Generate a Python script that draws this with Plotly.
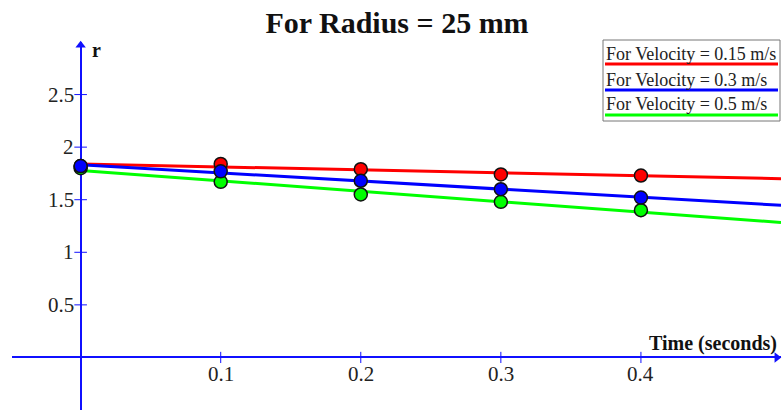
import numpy as np
import plotly.graph_objects as go

# Measured radius r against time for three flow velocities
time_s = [0.0, 0.1, 0.2, 0.3, 0.4]
series_names = ["For Velocity = 0.15 m/s", "For Velocity = 0.3 m/s", "For Velocity = 0.5 m/s"]
r_v015 = [1.82, 1.84, 1.79, 1.74, 1.73]
r_v030 = [1.82, 1.77, 1.68, 1.60, 1.52]
r_v050 = [1.80, 1.67, 1.55, 1.48, 1.40]
series_colors = ["#ff0000", "#0000ff", "#00ff00"]

x_ticks = [0.1, 0.2, 0.3, 0.4]
x_tick_labels = ["0.1", "0.2", "0.3", "0.4"]
y_ticks = [0.5, 1.0, 1.5, 2.0, 2.5]
y_tick_labels = ["0.5", "1", "1.5", "2", "2.5"]

X_RANGE = [-0.049, 0.5]
Y_RANGE = [-0.5, 3.0]
AXIS_BLUE = "#1010ff"
SERIF = "Liberation Serif, Times New Roman, serif"

W, H = 782, 410
ML, MR, MT, MB = 12, 1, 42, 0


def px_x(p):
    return (p - ML) / (W - ML - MR)


def px_y(p):
    return (H - MB - p) / (H - MT - MB)


fig = go.Figure()

series = [r_v015, r_v030, r_v050]

# least-squares trend lines across the full x range
x_line = np.array([0.0, X_RANGE[1]])
for vals, col in zip(series, series_colors):
    m, b = np.polyfit(time_s, vals, 1)
    fig.add_trace(go.Scatter(x=x_line, y=m * x_line + b, mode="lines",
                             line=dict(color=col, width=3), hoverinfo="skip",
                             showlegend=False, cliponaxis=True))

# measured points (green under red under blue)
for idx in [2, 0, 1]:
    fig.add_trace(go.Scatter(x=time_s, y=series[idx], mode="markers",
                             marker=dict(color=series_colors[idx], size=13,
                                         line=dict(color="#111111", width=1.5)),
                             name=series_names[idx], showlegend=False))

# tick marks crossing the axes
fig.add_trace(go.Scatter(x=x_ticks, y=[0] * len(x_ticks), mode="markers",
                         marker=dict(symbol="line-ns", size=8,
                                     line=dict(color=AXIS_BLUE, width=1)),
                         hoverinfo="skip", showlegend=False))
fig.add_trace(go.Scatter(x=[0] * len(y_ticks), y=y_ticks, mode="markers",
                         marker=dict(symbol="line-ew", size=9,
                                     line=dict(color=AXIS_BLUE, width=1)),
                         hoverinfo="skip", showlegend=False))

# arrow heads at the axis ends
fig.add_trace(go.Scatter(x=[0], y=[Y_RANGE[1] - 0.03], mode="markers",
                         marker=dict(symbol="triangle-up", size=9, color=AXIS_BLUE),
                         cliponaxis=False, hoverinfo="skip", showlegend=False))
fig.add_trace(go.Scatter(x=[X_RANGE[1] - 0.003], y=[0], mode="markers",
                         marker=dict(symbol="triangle-right", size=9, color=AXIS_BLUE),
                         cliponaxis=False, hoverinfo="skip", showlegend=False))

annotations = []
for v, t in zip(x_ticks, x_tick_labels):
    annotations.append(dict(x=v, y=0, xref="x", yref="y", text=t, showarrow=False,
                            xanchor="center", yanchor="top", yshift=-3,
                            font=dict(family=SERIF, size=21, color="#222222")))
for v, t in zip(y_ticks, y_tick_labels):
    annotations.append(dict(x=0, y=v, xref="x", yref="y", text=t, showarrow=False,
                            xanchor="right", yanchor="middle", xshift=-5,
                            font=dict(family=SERIF, size=21, color="#222222")))

annotations.append(dict(x=px_x(90), y=px_y(50), xref="paper", yref="paper", text="<b>r</b>",
                        showarrow=False, xanchor="left", yanchor="middle",
                        font=dict(family=SERIF, size=20, color="#111111")))
annotations.append(dict(x=px_x(779), y=px_y(343), xref="paper", yref="paper",
                        text="<b>Time (seconds)</b>", showarrow=False,
                        xanchor="right", yanchor="middle",
                        font=dict(family=SERIF, size=20, color="#111111")))

# legend box: label text with a coloured stroke underneath
shapes = [dict(type="rect", xref="paper", yref="paper",
               x0=px_x(603), x1=px_x(780), y0=px_y(121), y1=px_y(40),
               line=dict(color="#777777", width=1), fillcolor="white", layer="above")]
text_rows = [54, 80, 104]
line_rows = [64, 90, 115]
for name, col, ty, ly in zip(series_names, series_colors, text_rows, line_rows):
    annotations.append(dict(x=px_x(604), y=px_y(ty), xref="paper", yref="paper", text=name,
                            showarrow=False, xanchor="left", yanchor="middle",
                            font=dict(family=SERIF, size=18, color="#222222")))
    shapes.append(dict(type="line", xref="paper", yref="paper",
                       x0=px_x(605), x1=px_x(778), y0=px_y(ly), y1=px_y(ly),
                       line=dict(color=col, width=3), layer="above"))

fig.update_layout(
    width=W, height=H,
    margin=dict(l=ML, r=MR, t=MT, b=MB),
    paper_bgcolor="white", plot_bgcolor="white",
    title=dict(text="<b>For Radius = 25 mm</b>", x=px_x(397) * (W - ML - MR) / W + ML / W,
               xanchor="center", y=1 - 22 / H, yanchor="middle",
               font=dict(family=SERIF, size=30, color="#111111")),
    xaxis=dict(range=X_RANGE, showgrid=False, showticklabels=False, ticks="",
               zeroline=True, zerolinecolor=AXIS_BLUE, zerolinewidth=1.5,
               showline=False, fixedrange=True),
    yaxis=dict(range=Y_RANGE, showgrid=False, showticklabels=False, ticks="",
               zeroline=True, zerolinecolor=AXIS_BLUE, zerolinewidth=1.5,
               showline=False, fixedrange=True),
    annotations=annotations,
    shapes=shapes,
    showlegend=False,
)

fig.write_html("out.html")
